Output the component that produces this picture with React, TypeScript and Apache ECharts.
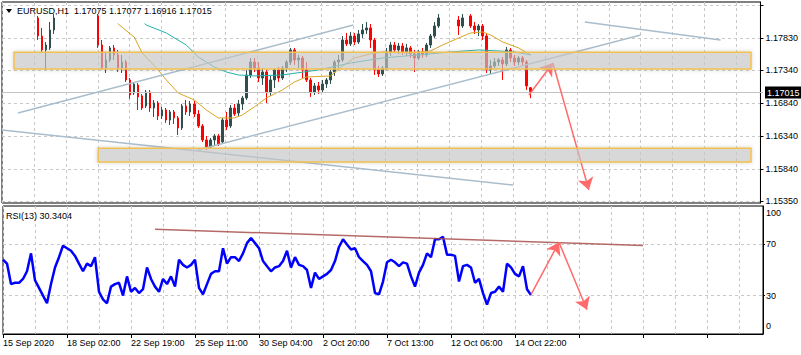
import React, { useEffect, useRef } from 'react';
import * as echarts from 'echarts';

// ---------- data ----------
const timeLabels = ['15 Sep 2020', '18 Sep 02:00', '22 Sep 19:00', '25 Sep 11:00', '30 Sep 04:00', '2 Oct 20:00', '7 Oct 13:00', '12 Oct 06:00', '14 Oct 22:00'];
const slotCount = 191; // 4-hour slots across the window (incl. right shift)
const labelEvery = 16;
const gridEvery = 8;

const priceTickLabels = [1.1535, 1.1584, 1.1634, 1.1684, 1.1734, 1.1783];
const priceGridLevels = [1.1535, 1.1584, 1.1634, 1.1684, 1.1734, 1.1783, 1.1833];
const rsiGridLevels = [30, 70];
const rsiLabelSpots = [6, 30, 70, 94.5];
const rsiLabelTexts = ['0', '30', '70', '100'];

// [open, close, low, high]
const candles = [
  [1.18225, 1.18285, 1.18194, 1.18346], [1.18285, 1.18194, 1.18134, 1.18316], [1.18194, 1.18255, 1.18134, 1.18316],
  [1.18255, 1.18346, 1.18225, 1.18377], [1.18346, 1.18285, 1.18225, 1.18377], [1.18285, 1.18316, 1.18225, 1.18377],
  [1.18316, 1.18255, 1.18194, 1.18346], [1.18255, 1.18194, 1.18134, 1.18285], [1.18194, 1.18134, 1.18088, 1.18225],
  [1.18134, 1.17860, 1.17799, 1.18164], [1.17860, 1.17648, 1.17602, 1.17982], [1.17648, 1.17723, 1.17344, 1.17769],
  [1.17678, 1.17951, 1.17648, 1.18073], [1.17951, 1.18134, 1.17891, 1.18194], [1.18134, 1.18225, 1.18103, 1.18285],
  [1.18225, 1.18285, 1.18164, 1.18346], [1.18285, 1.18225, 1.18164, 1.18346], [1.18225, 1.18316, 1.18194, 1.18377],
  [1.18316, 1.18255, 1.18194, 1.18377], [1.18255, 1.18194, 1.18134, 1.18316], [1.18194, 1.18285, 1.18164, 1.18316],
  [1.18285, 1.18225, 1.18164, 1.18346], [1.18225, 1.18255, 1.18134, 1.18316], [1.18255, 1.18164, 1.18103, 1.18285],
  [1.18164, 1.17723, 1.17678, 1.18194], [1.17723, 1.17374, 1.17344, 1.17799], [1.17374, 1.17496, 1.17298, 1.17617],
  [1.17496, 1.17678, 1.17465, 1.17708], [1.17678, 1.17572, 1.17496, 1.17723], [1.17572, 1.17374, 1.17313, 1.17648],
  [1.17374, 1.17465, 1.17298, 1.17572], [1.17465, 1.17192, 1.17161, 1.17496], [1.17192, 1.16964, 1.16903, 1.17222],
  [1.16994, 1.17131, 1.16964, 1.17161], [1.17116, 1.16934, 1.16736, 1.17146], [1.16949, 1.16766, 1.16736, 1.16979],
  [1.16797, 1.17009, 1.16766, 1.17040], [1.17009, 1.16766, 1.16706, 1.17040], [1.16766, 1.16842, 1.16630, 1.16888],
  [1.16842, 1.16645, 1.16584, 1.16873], [1.16645, 1.16736, 1.16599, 1.16782], [1.16736, 1.16584, 1.16539, 1.16766],
  [1.16584, 1.16706, 1.16508, 1.16736], [1.16706, 1.16615, 1.16523, 1.16736], [1.16615, 1.16463, 1.16356, 1.16645],
  [1.16463, 1.16797, 1.16432, 1.16827], [1.16797, 1.16706, 1.16660, 1.16888], [1.16706, 1.16827, 1.16645, 1.16873],
  [1.16827, 1.16675, 1.16630, 1.16873], [1.16675, 1.16493, 1.16463, 1.16736], [1.16493, 1.16280, 1.16250, 1.16523],
  [1.16280, 1.16174, 1.16129, 1.16341], [1.16174, 1.16280, 1.16144, 1.16311], [1.16280, 1.16341, 1.16189, 1.16372],
  [1.16341, 1.16220, 1.16189, 1.16372], [1.16250, 1.16584, 1.16220, 1.16615], [1.16584, 1.16478, 1.16432, 1.16706],
  [1.16493, 1.16766, 1.16463, 1.16812], [1.16766, 1.16675, 1.16645, 1.16827], [1.16690, 1.16827, 1.16645, 1.16888],
  [1.16827, 1.16918, 1.16736, 1.16949], [1.16918, 1.17268, 1.16888, 1.17344], [1.17268, 1.17465, 1.17222, 1.17526],
  [1.17465, 1.17374, 1.17313, 1.17526], [1.17374, 1.17222, 1.17161, 1.17465], [1.17222, 1.17313, 1.17116, 1.17374],
  [1.17313, 1.17009, 1.16842, 1.17344], [1.17009, 1.17192, 1.16949, 1.17253], [1.17192, 1.17344, 1.17070, 1.17374],
  [1.17344, 1.17222, 1.17161, 1.17389], [1.17222, 1.17374, 1.17192, 1.17404], [1.17374, 1.17465, 1.17313, 1.17496],
  [1.17465, 1.17648, 1.17420, 1.17678], [1.17648, 1.17496, 1.17420, 1.17678], [1.17496, 1.17526, 1.17374, 1.17572],
  [1.17526, 1.17344, 1.17222, 1.17556], [1.17344, 1.17192, 1.17161, 1.17465], [1.17192, 1.17009, 1.16934, 1.17222],
  [1.17009, 1.17101, 1.16964, 1.17146], [1.17101, 1.17040, 1.16979, 1.17161], [1.17040, 1.17131, 1.17009, 1.17192],
  [1.17131, 1.17192, 1.17070, 1.17222], [1.17192, 1.17313, 1.17131, 1.17344], [1.17313, 1.17465, 1.17253, 1.17496],
  [1.17465, 1.17496, 1.17374, 1.17572], [1.17496, 1.17799, 1.17465, 1.17860], [1.17799, 1.17739, 1.17708, 1.17906],
  [1.17739, 1.17860, 1.17708, 1.17921], [1.17860, 1.17769, 1.17723, 1.17906], [1.17769, 1.17891, 1.17739, 1.17951],
  [1.17891, 1.17951, 1.17830, 1.18042], [1.17951, 1.17982, 1.17891, 1.18073], [1.17982, 1.17799, 1.17678, 1.18042],
  [1.17799, 1.17344, 1.17268, 1.17830], [1.17344, 1.17283, 1.17237, 1.17404], [1.17283, 1.17374, 1.17253, 1.17404],
  [1.17374, 1.17617, 1.17344, 1.17678], [1.17617, 1.17723, 1.17556, 1.17769], [1.17723, 1.17648, 1.17602, 1.17769],
  [1.17648, 1.17708, 1.17587, 1.17754], [1.17708, 1.17617, 1.17572, 1.17754], [1.17617, 1.17678, 1.17556, 1.17739],
  [1.17678, 1.17587, 1.17526, 1.17708], [1.17587, 1.17526, 1.17313, 1.17648], [1.17526, 1.17617, 1.17496, 1.17648],
  [1.17617, 1.17572, 1.17526, 1.17678], [1.17572, 1.17723, 1.17541, 1.17754], [1.17723, 1.17860, 1.17678, 1.17891],
  [1.17860, 1.18012, 1.17830, 1.18073], [1.18012, 1.18134, 1.17982, 1.18194], [1.18134, 1.18225, 1.18103, 1.18285],
  [1.18225, 1.18164, 1.18118, 1.18285], [1.18164, 1.18194, 1.18103, 1.18255], [1.18194, 1.18103, 1.18073, 1.18255],
  [1.18103, 1.18012, 1.17875, 1.18164], [1.18012, 1.18134, 1.17982, 1.18194], [1.18134, 1.18164, 1.18088, 1.18225],
  [1.18164, 1.18012, 1.17982, 1.18194], [1.18012, 1.17951, 1.17891, 1.18073], [1.17951, 1.18012, 1.17860, 1.18042],
  [1.18012, 1.17860, 1.17799, 1.18042], [1.17860, 1.17344, 1.17298, 1.17906], [1.17344, 1.17404, 1.17283, 1.17496],
  [1.17404, 1.17465, 1.17374, 1.17526], [1.17465, 1.17496, 1.17404, 1.17526], [1.17496, 1.17435, 1.17192, 1.17541],
  [1.17435, 1.17648, 1.17404, 1.17693], [1.17648, 1.17526, 1.17465, 1.17678], [1.17526, 1.17465, 1.17404, 1.17572],
  [1.17465, 1.17526, 1.17420, 1.17556], [1.17526, 1.17465, 1.17404, 1.17556], [1.17465, 1.17101, 1.17040, 1.17496],
  [1.17075, 1.17015, 1.16916, 1.17077],
];

// moving averages, [slot, price]
const maOrange = [
  [27, 1.18225], [29, 1.18042], [33, 1.17845], [35, 1.17602], [39, 1.17344], [41, 1.17192], [44, 1.16994],
  [48, 1.16888], [51, 1.16736], [54, 1.16615], [58, 1.16615], [60, 1.1666], [63, 1.16782], [66, 1.16918],
  [70, 1.1704], [73, 1.17161], [76, 1.17237], [82, 1.17253], [85, 1.17404], [88, 1.17526], [92, 1.17587],
  [95, 1.17617], [102, 1.17602], [107, 1.17632], [110, 1.17723], [114, 1.1783], [117, 1.17906], [120, 1.17921],
  [122, 1.17875], [125, 1.17769], [129, 1.17678], [132, 1.17572],
];
const maTeal = [
  [32, 1.18255], [36, 1.18027], [41, 1.17906], [46, 1.17723], [49, 1.17541], [53, 1.17389], [56, 1.17313],
  [59, 1.17268], [63, 1.17253], [70, 1.17268], [79, 1.17344], [87, 1.1745], [95, 1.17526], [104, 1.17572],
  [112, 1.17617], [119, 1.17648], [124, 1.17632], [128, 1.17617], [132, 1.17572],
];

const rsi = [
  58, 55, 39, 40, 40, 43, 49, 63, 42, 36, 30, 24, 39, 52, 60, 69, 67, 65, 61, 55, 49, 55, 53, 60,
  33, 27, 24, 37, 39, 40, 30, 45, 33, 36, 32, 35, 52, 43, 37, 33, 43, 39, 45, 37, 58, 54, 52, 54,
  58, 36, 31, 39, 47, 49, 49, 67, 55, 60, 60, 57, 63, 71, 75, 71, 67, 57, 53, 49, 52, 53, 57, 65,
  52, 60, 54, 53, 50, 36, 48, 43, 45, 47, 50, 57, 68, 74, 70, 66, 67, 60, 57, 54, 49, 32, 31, 41,
  56, 58, 56, 53, 56, 55, 45, 37, 48, 54, 63, 60, 74, 74, 76, 62, 62, 61, 41, 53, 54, 52, 40, 43,
  32, 23, 32, 33, 37, 33, 55, 52, 47, 45, 53, 35, 30.3404,
];

// zones: [slotFrom, slotTo, priceLow, priceHigh]
const zones = [
  [3, 187, 1.17359, 1.17613],
  [24, 187, 1.15946, 1.16154],
];
// trend lines: [[slot, price], [slot, price]]
const trendLines = [
  [[4, 1.1669], [88, 1.18027]],
  [[49, 1.16129], [160, 1.17875]],
  [[0, 1.16432], [128, 1.15597]],
  [[146, 1.18073], [180, 1.17799]],
];
const priceArrows = [
  [[132, 1.16964], [138, 1.1745]],
  [[138, 1.1745], [147, 1.15522]],
];
const rsiTrend = [[38, 81.8], [160, 69.2]];
const rsiArrows = [
  [[132, 30.8], [139, 71.6]],
  [[139, 71.6], [146, 19]],
];
const quote = { symbol: 'EURUSD,H1', open: 1.17075, high: 1.17077, low: 1.16916, close: 1.17015 };
const rsiName = 'RSI(13)';

// axis extents (frame = full pane, clip = drawable area of the price pane)
const priceMin = 1.15323;
const priceMaxFrame = 1.18377;
const priceMaxClip = 1.18042;

const FONT = "'Liberation Sans', Arial, sans-serif";

export default function App() {
  const ref = useRef<HTMLDivElement>(null);
  useEffect(() => {
    document.body.style.margin = '0';
    if (!ref.current) return;
    const chart = echarts.init(ref.current, undefined, { renderer: 'svg' });
    const slots = Array.from({ length: slotCount }, (_, i) => String(i));
    const dash = { color: '#c8c8c8', type: [3, 3] as any, width: 1 };
    const axisText = { fontSize: 9, color: '#000', fontFamily: FONT };

    const option: any = {
      animation: false,
      textStyle: { fontFamily: FONT },
      grid: [
        { left: 2, top: 2, width: 761, height: 201, show: true, borderColor: '#000', borderWidth: 1, backgroundColor: '#fff' },
        { left: 2, top: 24, width: 761, height: 179, show: false },
        { left: 2, top: 206, width: 761, height: 128, show: true, borderColor: '#000', borderWidth: 1, backgroundColor: '#fff' },
      ],
      xAxis: [
        {
          gridIndex: 0, type: 'category', data: slots, boundaryGap: false,
          axisLine: { show: false }, axisTick: { show: false }, axisLabel: { show: false },
          splitLine: { show: true, interval: gridEvery - 1, lineStyle: dash },
        },
        { gridIndex: 1, type: 'category', data: slots, boundaryGap: false, show: false },
        {
          gridIndex: 2, type: 'category', data: slots, boundaryGap: false,
          axisLine: { show: true, lineStyle: { color: '#000' } },
          axisTick: { show: true, interval: labelEvery - 1, length: 4, lineStyle: { color: '#000' } },
          axisLabel: {
            ...axisText, interval: labelEvery - 1, align: 'left', margin: 4,
            formatter: (_v: string, idx: number) => (idx % labelEvery === 0 ? timeLabels[idx / labelEvery] ?? '' : ''),
          },
          splitLine: { show: true, interval: gridEvery - 1, lineStyle: dash },
        },
      ],
      yAxis: [
        {
          gridIndex: 0, type: 'value', position: 'right', min: priceMin, max: priceMaxFrame, scale: true,
          axisLine: { show: true, lineStyle: { color: '#000' } },
          axisTick: { show: true, customValues: priceGridLevels, length: 3, lineStyle: { color: '#000' } },
          axisLabel: { ...axisText, customValues: priceTickLabels, margin: 5, formatter: (v: number) => v.toFixed(5) },
          splitLine: { show: true, lineStyle: dash },
        },
        { gridIndex: 1, type: 'value', min: priceMin, max: priceMaxClip, scale: true, show: false, splitLine: { show: false } },
        {
          gridIndex: 2, type: 'value', position: 'right', min: 0, max: 100,
          axisLine: { show: true, lineStyle: { color: '#000' } },
          axisTick: { show: true, customValues: rsiGridLevels, length: 2, lineStyle: { color: '#000' } },
          axisLabel: {
            ...axisText, customValues: rsiLabelSpots, margin: 3,
            formatter: (v: number) => rsiLabelTexts[rsiLabelSpots.indexOf(v)] ?? '',
          },
          splitLine: { show: true, lineStyle: dash },
        },
      ],
      series: [
        {
          name: 'price', type: 'candlestick', xAxisIndex: 1, yAxisIndex: 1, data: candles, barWidth: 2, z: 2,
          itemStyle: { color: '#2F4F4F', color0: '#FF0000', borderColor: '#2F4F4F', borderColor0: '#FF0000', borderWidth: 1 },
          markLine: {
            silent: true, symbol: 'none', animation: false,
            lineStyle: { color: '#c4c4c4', type: 'solid', width: 1 },
            label: {
              show: true, position: 'end', distance: 2, formatter: quote.close.toFixed(5),
              backgroundColor: '#000', color: '#fff', fontSize: 9, fontFamily: FONT, padding: [2, 2, 1, 2],
            },
            data: [{ yAxis: quote.close }],
          },
        },
        {
          name: 'maOrange', type: 'line', xAxisIndex: 1, yAxisIndex: 1, data: maOrange, showSymbol: false, z: 3,
          lineStyle: { color: '#DAA520', width: 1 },
        },
        {
          name: 'maTeal', type: 'line', xAxisIndex: 1, yAxisIndex: 1, data: maTeal, showSymbol: false, z: 3,
          lineStyle: { color: '#20B2AA', width: 1 },
        },
        {
          name: 'zones', type: 'custom', xAxisIndex: 1, yAxisIndex: 1, data: zones, z: 10,
          encode: { x: [0, 1], y: [2, 3] },
          renderItem: (_p: any, api: any) => {
            const a = api.coord([api.value(0), api.value(3)]);
            const b = api.coord([api.value(1), api.value(2)]);
            return {
              type: 'rect',
              shape: { x: a[0], y: a[1], width: b[0] - a[0], height: b[1] - a[1] },
              style: {
                fill: 'rgba(205,205,205,0.55)', stroke: '#F2C14E', lineWidth: 1.5,
                shadowBlur: 4, shadowColor: 'rgba(140,140,140,0.45)',
              },
            };
          },
        },
        {
          name: 'drawings', type: 'line', xAxisIndex: 0, yAxisIndex: 0, data: [], z: 11,
          markLine: {
            silent: true, symbol: 'none', animation: false, label: { show: false },
            lineStyle: { color: '#A9BDCC', width: 1.5, type: 'solid' },
            data: trendLines.map(([a, b]) => [{ coord: a }, { coord: b }]),
          },
        },
        {
          name: 'arrows', type: 'line', xAxisIndex: 0, yAxisIndex: 0, data: [], z: 12,
          markLine: {
            silent: true, symbol: ['none', 'arrow'], symbolSize: 12, animation: false, label: { show: false },
            lineStyle: { color: '#FF6A6A', width: 1.5, type: 'solid' },
            itemStyle: { color: '#FF6A6A' },
            data: priceArrows.map(([a, b]) => [{ coord: a }, { coord: b }]),
          },
        },
        {
          name: 'rsi', type: 'line', xAxisIndex: 2, yAxisIndex: 2, data: rsi, showSymbol: false, z: 3,
          lineStyle: { color: '#0000FF', width: 2.5 },
        },
        {
          name: 'rsiDrawings', type: 'line', xAxisIndex: 2, yAxisIndex: 2, data: [], z: 11,
          markLine: {
            silent: true, symbol: 'none', animation: false, label: { show: false },
            lineStyle: { color: '#A8504C', width: 1.5, type: 'solid', opacity: 0.85 },
            data: [[{ coord: rsiTrend[0] }, { coord: rsiTrend[1] }]],
          },
        },
        {
          name: 'rsiArrows', type: 'line', xAxisIndex: 2, yAxisIndex: 2, data: [], z: 12,
          markLine: {
            silent: true, symbol: ['none', 'arrow'], symbolSize: 12, animation: false, label: { show: false },
            lineStyle: { color: '#FF6A6A', width: 1.5, type: 'solid' },
            itemStyle: { color: '#FF6A6A' },
            data: rsiArrows.map(([a, b]) => [{ coord: a }, { coord: b }]),
          },
        },
      ],
      graphic: [
        { type: 'polygon', z: 100, shape: { points: [[6, 9], [12, 9], [9, 13]] }, style: { fill: '#000' } },
        {
          type: 'text', z: 100, x: 17, y: 11,
          style: {
            text: `${quote.symbol}  ${quote.open.toFixed(5)} ${quote.high.toFixed(5)} ${quote.low.toFixed(5)} ${quote.close.toFixed(5)}`,
            fontSize: 9, fontFamily: FONT, fill: '#000', verticalAlign: 'middle',
          },
        },
        {
          type: 'text', z: 100, x: 6, y: 216,
          style: { text: `${rsiName} ${rsi[rsi.length - 1].toFixed(4)}`, fontSize: 9, fontFamily: FONT, fill: '#000', verticalAlign: 'middle' },
        },
      ],
    };
    chart.setOption(option);
    return () => chart.dispose();
  }, []);
  return <div ref={ref} style={{ width: 801, height: 355 }} />;
}
